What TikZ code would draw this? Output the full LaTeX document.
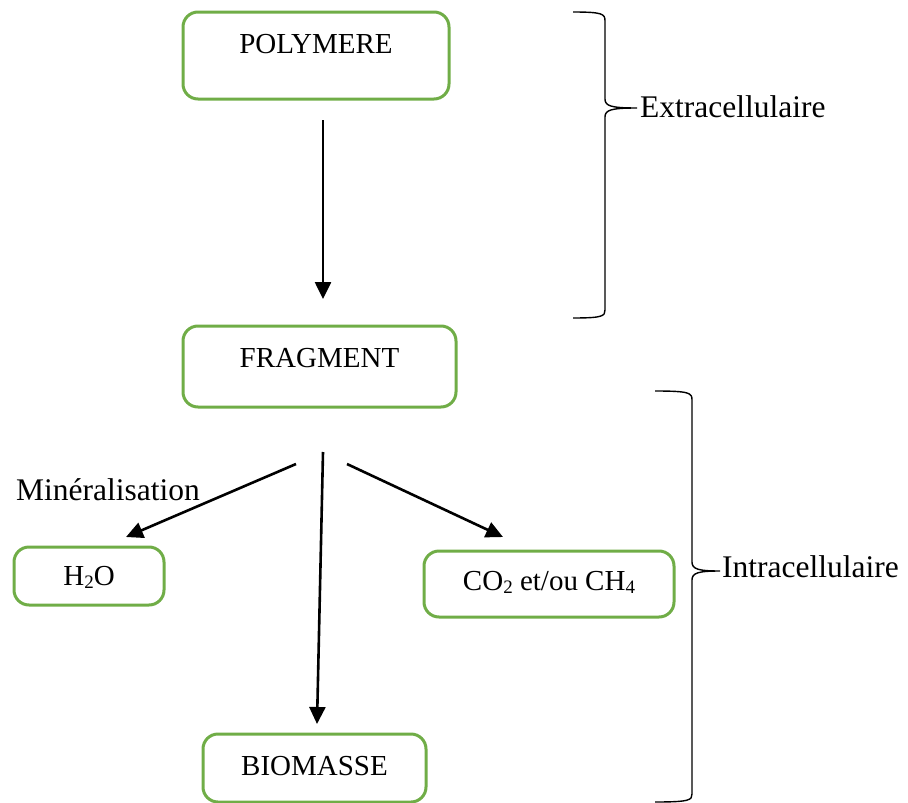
\documentclass[tikz,border=0pt]{standalone}
\usepackage{fontspec}
\setmainfont{Liberation Serif}
\usetikzlibrary{arrows.meta}
\definecolor{boxgreen}{HTML}{70AD47}
\newcommand{\mysub}[1]{\raisebox{-0.28ex}{\fontsize{19}{20}\selectfont #1}}
\begin{document}
\begin{tikzpicture}[x=1pt,y=-1pt,
  box/.style={draw=boxgreen, line width=3pt, rounded corners=15pt, inner sep=0pt,
    font=\fontsize{29}{34}\selectfont, align=center},
  lab/.style={inner sep=0pt, font=\fontsize{31.5}{36}\selectfont},
  arr/.style={line width=2.6pt, -{Triangle[length=17pt,width=16pt]}},
  brace/.style={line width=1.4pt}]
\useasboundingbox (0,0) rectangle (908,803);

% boxes
\node[box, minimum width=266pt, minimum height=87pt, text height=20pt, text depth=25pt] (poly) at (316,55.5) {POLYMERE};
\node[box, minimum width=273pt, minimum height=81pt, text height=20pt, text depth=19pt] (frag) at (319.5,366.5) {FRAGMENT};
\node[box, minimum width=150pt, minimum height=58pt, text height=20pt, text depth=2pt] (hdo) at (89,576) {H\mysub{2}O};
\node[box, minimum width=250pt, minimum height=66pt, text height=20pt, text depth=8pt] (cdo) at (549,584) {CO\mysub{2} et/ou CH\mysub{4}};
\node[box, minimum width=223pt, minimum height=68pt, text height=20pt, text depth=6pt] (bio) at (314.5,768) {BIOMASSE};

% labels
\node[lab, anchor=base west] (mine) at (16,500) {Minéralisation};
\node[lab, anchor=base west] (extra) at (640,117) {Extracellulaire};
\node[lab, anchor=base west] (intra) at (722,577) {Intracellulaire};

% arrow end points
\coordinate (a1s) at (323,120);
\coordinate (a1e) at (323,299);
\coordinate (a2s) at (296,464);
\coordinate (a2e) at (126,537);
\coordinate (a3s) at (323,452);
\coordinate (a3e) at (317,724);
\coordinate (a4s) at (347,464);
\coordinate (a4e) at (503,537);

\draw[arr] (a1s) -- (a1e);
\draw[arr] (a2s) -- (a2e);
\draw[arr] (a3s) -- (a3e);
\draw[arr] (a4s) -- (a4e);

% braces
\draw[brace] (573,12) .. controls (603,12) and (605,14) .. (605,21)
  -- (605,99) .. controls (605,106) and (611,108) .. (637,108)
  .. controls (611,108) and (605,110) .. (605,117)
  -- (605,310) .. controls (605,316) and (603,318) .. (573,318);
\draw[brace] (655,391) .. controls (690,391) and (692,393) .. (692,400)
  -- (692,562) .. controls (692,569) and (698,571) .. (720,571)
  .. controls (698,571) and (692,573) .. (692,580)
  -- (692,794) .. controls (692,800) and (690,802) .. (655,802);
\end{tikzpicture}
\end{document}
